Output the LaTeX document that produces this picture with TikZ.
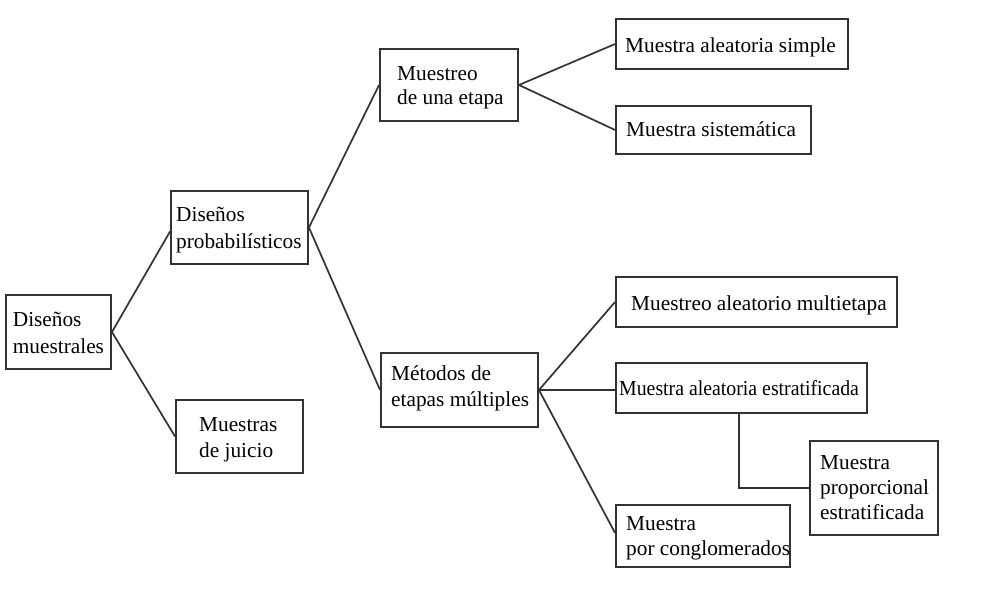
\documentclass[tikz,border=0pt]{standalone}
\usepackage{fontspec}
\usepackage{graphicx}
\setmainfont{Liberation Serif}
\definecolor{edge}{HTML}{333333}
\tikzset{
  box/.style={draw=edge, line width=1.9pt, rectangle, inner sep=0pt, fill=white},
  txt/.style={anchor=base west, align=left, inner sep=0pt, text=black,
              font=\fontsize{21.3}{#1}\selectfont},
  txt/.default=25,
  link/.style={draw=edge, line width=1.7pt}
}
\begin{document}
\begin{tikzpicture}[x=1pt, y=-1pt]
\useasboundingbox (0,0) rectangle (981,609);
% boxes
\node[box, minimum width=105pt, minimum height=74pt] (A) at (58.5,332) {};
\node[box, minimum width=137pt, minimum height=73pt] (B) at (239.5,227.5) {};
\node[box, minimum width=127pt, minimum height=73pt] (C) at (239.5,436.5) {};
\node[box, minimum width=138pt, minimum height=72pt] (D) at (449,85) {};
\node[box, minimum width=232pt, minimum height=50pt] (E) at (732,44) {};
\node[box, minimum width=195pt, minimum height=48pt] (F) at (713.5,130) {};
\node[box, minimum width=157pt, minimum height=74pt] (G) at (459.5,390) {};
\node[box, minimum width=281pt, minimum height=50pt] (H) at (756.5,302) {};
\node[box, minimum width=251pt, minimum height=50pt] (I) at (741.5,388) {};
\node[box, minimum width=128pt, minimum height=94pt] (J) at (874,488) {};
\node[box, minimum width=174pt, minimum height=62pt] (K) at (703,536) {};
% texts (anchor = baseline of last line)
\node[txt=26.5] (At) at (12.7,353) {Diseños\\muestrales};
\node[txt=26.6] (Bt) at (176,248.3) {Diseños\\probabilísticos};
\node[txt=26] (Ct) at (199,457.7) {Muestras\\de juicio};
\node[txt=24.3] (Dt) at (397,105) {Muestreo\\de una etapa};
\node[txt] (Et) at (625,53) {Muestra aleatoria simple};
\node[txt] (Ft) at (626,136.7) {Muestra sistemática};
\node[txt=25.3] (Gt) at (391,406) {Métodos de\\etapas múltiples};
\node[txt] (Ht) at (631,310) {Muestreo aleatorio multietapa};
\node[txt] (It) at (619,395.7) {\scalebox{0.93}[1]{Muestra aleatoria estratificada}};
\node[txt=24.8] (Jt) at (820,519) {Muestra\\proporcional\\estratificada};
\node[txt=25] (Kt) at (626,555) {Muestra\\por conglomerados};
% connectors
\draw[link] (A.east) -- ([yshift=-4pt]B.west);
\draw[link] (A.east) -- (C.west);
\draw[link] (B.east) -- (D.west);
\draw[link] (B.east) -- (G.west);
\draw[link] (D.east) -- (E.west);
\draw[link] (D.east) -- (F.west);
\draw[link] (G.east) -- (H.west);
\draw[link] (G.east) -- (G.east -| I.west);
\draw[link] (G.east) -- ([yshift=3pt]K.west);
\draw[link] ([xshift=-2.5pt]I.south) |- (J.west);
\end{tikzpicture}
\end{document}
